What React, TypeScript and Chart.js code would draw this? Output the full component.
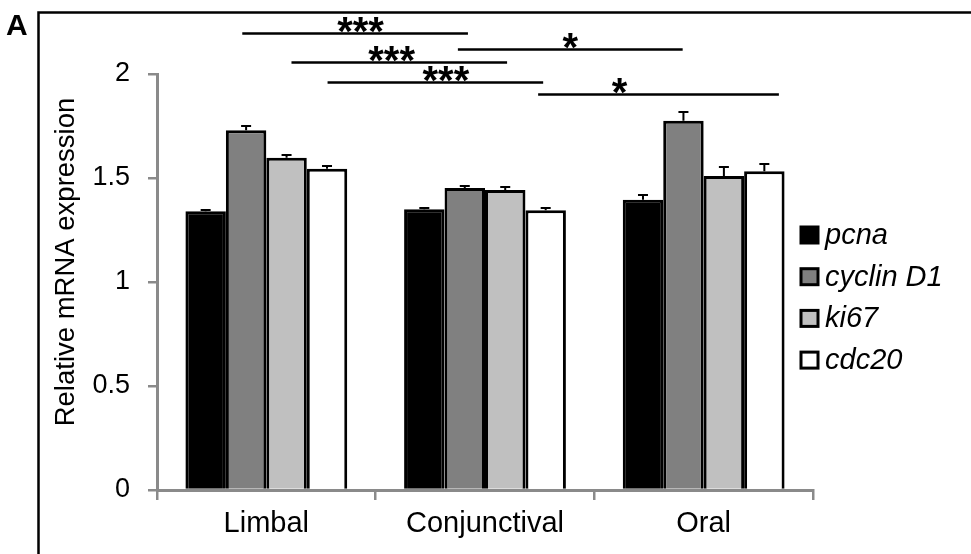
import React, { useEffect, useRef } from 'react';
import { Chart, registerables } from 'chart.js';

Chart.register(...registerables);

// ---- data ----
const categories = ['Limbal', 'Conjunctival', 'Oral'];
const seriesNames = ['pcna', 'cyclin D1', 'ki67', 'cdc20'];
const pcna = [1.34, 1.35, 1.395];
const cyclinD1 = [1.73, 1.452, 1.775];
const ki67 = [1.597, 1.442, 1.51];
const cdc20 = [1.545, 1.345, 1.533];
const pcnaErr = [0.003, 0.002, 0.018];
const cyclinD1Err = [0.016, 0.003, 0.036];
const ki67Err = [0.01, 0.008, 0.04];
const cdc20Err = [0.01, 0.007, 0.028];
const yTicks = [0, 0.5, 1, 1.5, 2];
const yTickLabels = ['0', '0.5', '1', '1.5', '2'];
const yAxisTitle = 'Relative mRNA expression';
const panelLabel = 'A';

// significance brackets (x in category units, y in data units)
const bracketFrom = [-0.11, 0.115, 0.28, 0.876, 1.243];
const bracketTo = [0.922, 1.101, 1.266, 1.904, 2.344];
const bracketY = [2.197, 2.058, 1.962, 2.12, 1.904];
const bracketText = ['***', '***', '***', '*', '*'];
const bracketTextX = [0.431, 0.573, 0.821, 1.39, 1.615];

// ---- styles ----
const FONT = '"Liberation Sans", Arial, sans-serif';
const seriesColors = ['#000000', '#808080', '#c0c0c0', '#ffffff'];
const seriesValues = [pcna, cyclinD1, ki67, cdc20];
const seriesErrors = [pcnaErr, cyclinD1Err, ki67Err, cdc20Err];
const AXIS_GRAY = '#8a8a8a';

const errorBarPlugin = {
  id: 'errorBars',
  afterDatasetsDraw(chart: any) {
    const ctx = chart.ctx;
    const y = chart.scales.y;
    ctx.save();
    ctx.strokeStyle = '#000';
    ctx.lineWidth = 2;
    chart.data.datasets.forEach((ds: any, i: number) => {
      const meta = chart.getDatasetMeta(i);
      meta.data.forEach((bar: any, j: number) => {
        const v = ds.data[j];
        const e = seriesErrors[i][j];
        const y0 = y.getPixelForValue(v);
        const y1 = Math.round(y.getPixelForValue(v + e)) - 1;
        ctx.beginPath();
        ctx.moveTo(bar.x, y0);
        ctx.lineTo(bar.x, y1);
        ctx.moveTo(bar.x - 5, y1);
        ctx.lineTo(bar.x + 5, y1);
        ctx.stroke();
      });
    });
    ctx.restore();
  },
};

const annotationPlugin = {
  id: 'annotations',
  afterDraw(chart: any) {
    const ctx = chart.ctx;
    const xs = chart.scales.x;
    const ys = chart.scales.y;
    ctx.save();
    // frame
    ctx.strokeStyle = '#000';
    ctx.lineWidth = 2.5;
    ctx.strokeRect(38.5, 12.5, 1000, 600);
    // panel label
    ctx.fillStyle = '#000';
    ctx.font = `bold 30px ${FONT}`;
    ctx.textAlign = 'left';
    ctx.textBaseline = 'alphabetic';
    ctx.fillText(panelLabel, 6, 35);
    // y axis title
    ctx.save();
    ctx.translate(66, 262);
    ctx.rotate(-Math.PI / 2);
    ctx.font = `27.5px ${FONT}`;
    ctx.textAlign = 'center';
    ctx.textBaseline = 'middle';
    ctx.fillText(yAxisTitle, 0, 0);
    ctx.restore();
    // brackets
    ctx.lineWidth = 2.5;
    for (let k = 0; k < bracketFrom.length; k++) {
      const x0 = xs.getPixelForValue(bracketFrom[k]);
      const x1 = xs.getPixelForValue(bracketTo[k]);
      const yy = Math.round(ys.getPixelForValue(bracketY[k])) + 0.5;
      ctx.beginPath();
      ctx.moveTo(x0, yy);
      ctx.lineTo(x1, yy);
      ctx.stroke();
      ctx.font = `bold 40px ${FONT}`;
      ctx.textAlign = 'center';
      ctx.textBaseline = 'alphabetic';
      ctx.fillText(bracketText[k], xs.getPixelForValue(bracketTextX[k]), yy + 11);
    }
    // legend
    const lx = 801;
    const ly0 = 235;
    const step = 41.7;
    ctx.textAlign = 'left';
    ctx.textBaseline = 'middle';
    ctx.font = `italic 29px ${FONT}`;
    chart.data.datasets.forEach((ds: any, i: number) => {
      const cy = ly0 + i * step;
      ctx.fillStyle = ds.backgroundColor;
      ctx.fillRect(lx, cy - 8, 17, 16);
      ctx.lineWidth = 3;
      ctx.strokeStyle = '#000';
      ctx.strokeRect(lx, cy - 8, 17, 16);
      ctx.fillStyle = '#000';
      ctx.fillText(ds.label, 825, cy + 1);
    });
    ctx.restore();
  },
};

export default function App() {
  const ref = useRef<HTMLCanvasElement>(null);
  useEffect(() => {
    document.body.style.margin = '0';
    const chart = new Chart(ref.current as HTMLCanvasElement, {
      type: 'bar',
      data: {
        labels: categories,
        datasets: seriesNames.map((name, i) => ({
          label: name,
          data: seriesValues[i],
          backgroundColor: seriesColors[i],
          borderColor: '#000',
          borderWidth: 3,
          categoryPercentage: 0.74,
          barPercentage: 1.0,
        })),
      },
      options: {
        responsive: false,
        animation: false,
        layout: { padding: { left: 48, top: 74, right: 158, bottom: 0 } },
        plugins: {
          legend: { display: false },
          tooltip: { enabled: false },
        },
        scales: {
          x: {
            afterFit: (s: any) => { s.height = 64; },
            grid: {
              display: true,
              drawOnChartArea: false,
              drawTicks: true,
              tickLength: 10,
              color: AXIS_GRAY,
              lineWidth: 2.5,
              offset: true,
            },
            border: { display: true, color: AXIS_GRAY, width: 3 },
            ticks: {
              color: '#000',
              font: { family: FONT, size: 29 },
              padding: 7,
            },
          },
          y: {
            min: 0,
            max: 2,
            afterFit: (s: any) => { s.width = 109; },
            afterBuildTicks: (s: any) => { s.ticks = yTicks.map((v) => ({ value: v })); },
            grid: {
              display: true,
              drawOnChartArea: false,
              drawTicks: true,
              tickLength: 9,
              color: AXIS_GRAY,
              lineWidth: 2.5,
            },
            border: { display: true, color: AXIS_GRAY, width: 3 },
            ticks: {
              color: '#000',
              font: { family: FONT, size: 27 },
              padding: 18,
              callback: (v: any) => {
                const idx = yTicks.indexOf(Number(v));
                return idx >= 0 ? yTickLabels[idx] : '';
              },
            },
            title: { display: false },
          },
        },
      },
      plugins: [errorBarPlugin, annotationPlugin],
    });
    return () => chart.destroy();
  }, []);
  return (
    <div style={{ width: 971, height: 554, background: '#fff' }}>
      <canvas ref={ref} width={971} height={554} style={{ width: 971, height: 554, display: 'block' }} />
    </div>
  );
}
